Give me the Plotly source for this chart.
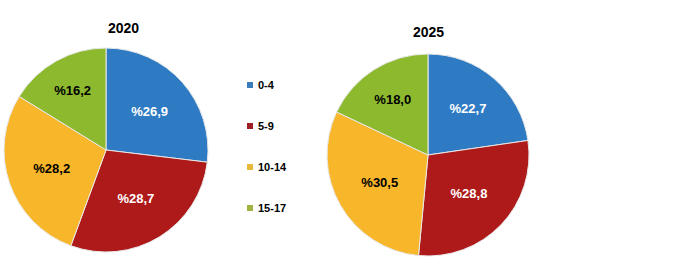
import plotly.graph_objects as go

categories = ["0-4", "5-9", "10-14", "15-17"]
years = ["2020", "2025"]
values_2020 = [26.9, 28.7, 28.2, 16.2]
values_2025 = [22.7, 28.8, 30.5, 18.0]
label_2020 = ["%26,9", "%28,7", "%28,2", "%16,2"]
label_2025 = ["%22,7", "%28,8", "%30,5", "%18,0"]

colors = ["#2E7BC4", "#AE1A1A", "#F8B62A", "#8DB92E"]
legend_colors = ["#3A7DBA", "#9E1E24", "#E8B83A", "#9DB540"]
text_colors = ["white", "white", "black", "black"]

W, H = 695, 266

fig = go.Figure()

common = dict(
    labels=categories,
    sort=False,
    direction="clockwise",
    rotation=0,
    textinfo="text",
    textposition="inside",
    insidetextorientation="horizontal",
    marker=dict(colors=colors, line=dict(color="#e8e8e8", width=1)),
    textfont=dict(family="Liberation Sans", size=13, color=text_colors, weight="bold"),
    showlegend=False,
    hoverinfo="label+percent",
)

fig.add_trace(go.Pie(values=values_2020, text=label_2020,
                     domain=dict(x=[0.0058, 0.2993], y=[0.0526, 0.8195]), **common))
fig.add_trace(go.Pie(values=values_2025, text=label_2025,
                     domain=dict(x=[0.4705, 0.7612], y=[0.0376, 0.797]), **common))

# custom legend (square swatch + bold label)
legend_x = 247
legend_y0 = 85
legend_step = 41
for i, (cat, col) in enumerate(zip(categories, legend_colors)):
    yc = legend_y0 + i * legend_step
    fig.add_shape(type="rect", xref="paper", yref="paper",
                  x0=legend_x / W, x1=(legend_x + 6) / W,
                  y0=1 - (yc + 3) / H, y1=1 - (yc - 3) / H,
                  fillcolor=col, line=dict(width=0))
    fig.add_annotation(x=(legend_x + 9) / W, y=1 - yc / H, xref="paper", yref="paper",
                       xanchor="left", yanchor="middle", text="<b>" + cat + "</b>",
                       showarrow=False,
                       font=dict(family="Liberation Sans", size=11, color="black"))

fig.add_annotation(x=106 / W, y=1 - 18 / H, xref="paper", yref="paper",
                   text="<b>" + years[0] + "</b>", showarrow=False,
                   font=dict(family="Liberation Sans", size=14, color="black"))
fig.add_annotation(x=428 / W, y=1 - 22 / H, xref="paper", yref="paper",
                   text="<b>" + years[1] + "</b>", showarrow=False,
                   font=dict(family="Liberation Sans", size=14, color="black"))

fig.update_layout(
    width=W, height=H,
    margin=dict(l=0, r=0, t=0, b=0),
    paper_bgcolor="white", plot_bgcolor="white",
    showlegend=False,
)

fig.write_html("out.html")
